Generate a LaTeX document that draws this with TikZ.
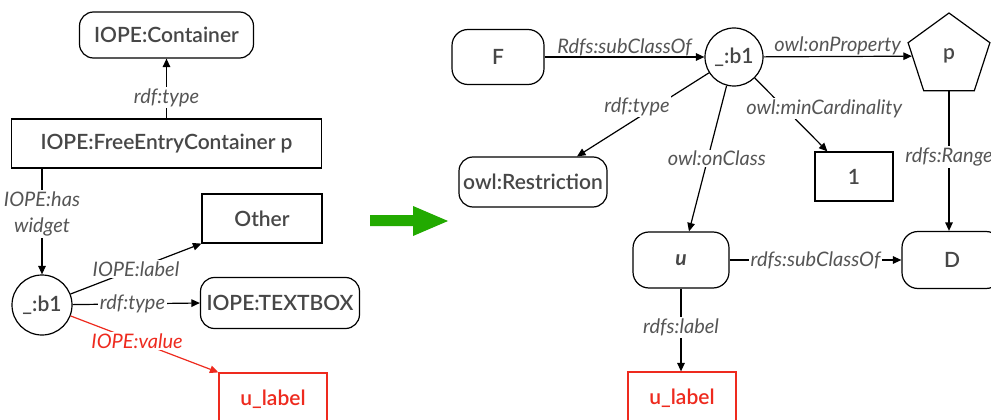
\documentclass[tikz,border=0pt]{standalone}
\usepackage{fontspec}
\setmainfont{Lato}
\IfFontExistsTF{Lato Semibold}{\newfontfamily\nodefnt{Lato Semibold}}{\newcommand\nodefnt{\bfseries}}
\usetikzlibrary{arrows.meta,shapes.geometric}
\definecolor{txt}{HTML}{474747}
\definecolor{lblc}{HTML}{555555}
\definecolor{redc}{HTML}{EE2A1E}
\definecolor{greenc}{HTML}{22AA00}
\begin{document}
\begin{tikzpicture}[x=1pt,y=-1pt,
  box/.style={draw,line width=1.2pt,text=txt,font=\nodefnt\fontsize{21}{24}\selectfont,inner sep=0pt},
  rbox/.style={box,rounded corners=14pt},
  circ/.style={box,circle,minimum size=60pt},
  lab/.style={font=\fontsize{20}{26}\selectfont\itshape,text=lblc,fill=white,inner sep=1.5pt},
  arr/.style={line width=1.2pt,-{Triangle[length=8.5pt,width=7.5pt]}},
  redbox/.style={box,draw=redc,text=redc}]
\useasboundingbox (0,0) rectangle (991,420);
\clip (0,0) rectangle (991,420);
\fill[white] (0,0) rectangle (991,420);

% ---------- left part ----------
\node[rbox,minimum width=174pt,minimum height=46pt] (cont) at (166.5,35) {IOPE:Container};
\node[box,minimum width=310pt,minimum height=49pt] (free) at (166.5,143.5) {IOPE:FreeEntryContainer p};
\node[circ] (b1l) at (42,305) {\_:b1};
\node[box,minimum width=120pt,minimum height=49pt] (other) at (262,218.5) {Other};
\node[rbox,minimum width=159pt,minimum height=51pt] (tb) at (280,303) {IOPE:TEXTBOX};
\node[redbox,minimum width=108pt,minimum height=52pt] (ull) at (273,399) {u\_label};

\draw[arr] (free.north) -- node[lab,pos=0.35]{rdf:type} (cont.south);
\draw[arr] (free.south -| b1l) -- node[lab,pos=0.43,align=center]{IOPE:has\\widget} (b1l.north);
\draw[arr] (b1l) -- node[lab]{IOPE:label} (other.south west);
\draw[arr] (b1l) -- node[lab,pos=0.47]{rdf:type} (tb.west);
\draw[arr,draw=redc] (b1l) -- node[lab,text=redc,pos=0.45]{IOPE:value} (ull.north west);

% ---------- green arrow ----------
\fill[greenc] (370,215) -- (413,215) -- (413,206) -- (448,221) -- (413,236) -- (413,226) -- (370,226) -- cycle;

% ---------- right part ----------
\node[rbox,minimum width=92pt,minimum height=55pt,rounded corners=16pt] (F) at (498,57) {F};
\node[circ,minimum size=58pt] (b1r) at (734,57) {\_:b1};
\node[box,regular polygon,regular polygon sides=5,minimum size=86pt] (p) at (949,56) {p};
\node[rbox,minimum width=148pt,minimum height=50pt] (restr) at (533,182) {owl:Restriction};
\node[box,minimum width=78pt,minimum height=49pt] (one) at (854,176.5) {1};
\node[rbox,minimum width=96pt,minimum height=56pt,rounded corners=16pt,font=\fontsize{21}{24}\selectfont\bfseries\itshape] (u) at (681,260) {u};
\node[rbox,minimum width=100pt,minimum height=57pt,rounded corners=16pt] (D) at (952,260) {D};
\node[redbox,minimum width=108pt,minimum height=52pt] (ulr) at (682,398) {u\_label};

\draw[arr] (F) -- node[lab,above,fill=none,inner sep=0.5pt]{Rdfs:subClassOf} (b1r);
\draw[arr] (b1r) -- node[lab,above,fill=none,inner sep=0.5pt]{owl:onProperty} (p);
\draw[arr] (b1r) -- node[lab,xshift=-6pt,yshift=8pt]{rdf:type} ([xshift=44pt]restr.north);
\draw[arr] (b1r) -- node[lab,xshift=9pt]{owl:onClass} ([xshift=8pt]u.north);
\draw[arr] (b1r) -- node[lab,pos=0.42,xshift=39pt]{owl:minCardinality} ([xshift=13pt]one.north west);
\draw[arr] (p.south) -- node[lab,pos=0.47]{rdfs:Range} (p.south |- D.north);
\draw[arr] (u) -- node[lab]{rdfs:subClassOf} (D);
\draw[arr] (u.south) -- node[lab,pos=0.47]{rdfs:label} (u.south |- ulr.north);
\end{tikzpicture}
\end{document}
